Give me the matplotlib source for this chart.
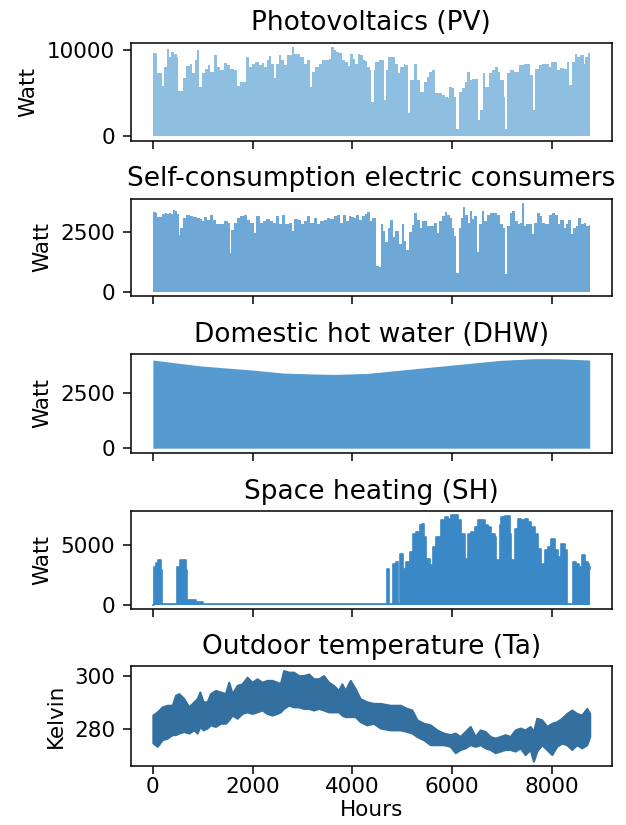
import matplotlib
matplotlib.use("Agg")
import matplotlib.pyplot as plt

# ---------------- data ----------------
titles = ["Photovoltaics (PV)", "Self-consumption electric consumers",
          "Domestic hot water (DHW)", "Space heating (SH)", "Outdoor temperature (Ta)"]
ylabels = ["Watt", "Watt", "Watt", "Watt", "Kelvin"]
xticks = [0, 2000, 4000, 6000, 8000]
yticks = [[0, 10000], [0, 2500], [0, 2500], [0, 5000], [280, 300]]

pv_hours = [0,53,87,140,174,220,274,321,367,421,474,501,588,608,674,741,788,841,888,935,
            988,1055,1102,1155,1222,1289,1356,1422,1489,1556,1623,1690,1756,1823,1877,1923,1990,2057,2124,2190,
            2237,2291,2324,2371,2424,2478,2524,2571,2638,2691,2745,2791,2838,2892,2958,3025,3092,3145,3192,3259,
            3326,3392,3459,3526,3573,3626,3679,3726,3793,3860,3907,3960,4013,4060,4107,4160,4214,4261,4294,4347,
            4374,4428,4461,4528,4594,4641,4681,4708,4775,4828,4862,4915,4962,5029,5062,5109,5162,5229,5296,5362,
            5429,5496,5529,5596,5663,5730,5797,5863,5910,5930,5997,6044,6084,6131,6197,6264,6297,6351,6398,6464,
            6518,6564,6618,6665,6731,6798,6865,6912,6965,7032,7065,7099,7152,7232,7286,7332,7379,7446,7513,7566,
            7613,7666,7733,7800,7867,7933,7980,8034,8100,8167,8234,8301,8354,8401,8468,8514,8568,8635,8668,8715,8759]
pv_watt = [9620,9540,7330,7250,5800,8020,10040,9160,9730,9540,9160,5230,5230,6760,8090,8400,7250,8780,10000,5730,
           7250,7820,8210,7440,9430,8020,7630,8510,8280,7820,7710,5800,6300,6300,9160,8020,8400,8590,8210,8510,
           8020,8780,9240,8400,6680,8400,9350,8860,8210,9350,9350,10300,9470,9470,9160,8400,8860,5730,7440,8020,
           8400,8780,8780,8970,10300,9920,9730,9620,8780,8590,8090,9470,8970,8320,9470,9350,8780,8700,8020,7630,
           4010,7630,8590,8780,8780,4200,7630,9160,9160,9160,8400,7250,8020,8400,8210,2670,6490,8400,6490,5150,
           6300,6870,7440,7630,4960,4960,4770,4580,4390,5730,5540,4580,880,5150,5540,6300,7440,6490,6570,6570,
           1910,3050,7250,5730,7250,7630,8020,7440,6490,4580,840,7250,7630,7440,7440,8210,8210,8400,8400,7060,
           3050,7820,8210,8400,8400,8020,8590,8590,7710,7940,7820,8590,5920,8590,9470,9160,9350,8400,9160,9620,9620]

sc_hours = [0,53,87,140,187,234,274,321,367,407,434,474,521,554,608,674,741,808,875,942,
            988,1035,1089,1155,1209,1256,1322,1389,1436,1503,1543,1569,1623,1690,1756,1823,1890,1957,2023,2077,
            2144,2210,2277,2344,2411,2478,2524,2591,2658,2725,2791,2838,2905,2972,3025,3092,3159,3225,3292,3359,
            3426,3493,3559,3626,3693,3760,3813,3880,3927,3973,4027,4080,4127,4194,4261,4294,4347,4394,4441,4481,
            4534,4574,4615,4661,4708,4761,4815,4862,4929,4995,5029,5082,5129,5196,5242,5296,5349,5396,5443,5496,
            5529,5596,5630,5696,5730,5797,5863,5897,5950,5997,6044,6084,6131,6177,6217,6264,6311,6351,6398,6444,
            6498,6531,6598,6645,6698,6765,6832,6898,6965,7018,7052,7099,7152,7199,7266,7312,7352,7399,7433,7486,
            7553,7600,7646,7700,7753,7800,7867,7933,8000,8067,8114,8167,8234,8287,8334,8381,8434,8488,8534,8581,
            8635,8688,8755,8759]
sc_watt = [3347,3319,3142,3142,3278,3319,3292,3319,3278,3456,3388,3278,2404,2705,3114,3251,3183,3142,3114,3087,
           2978,3142,3046,3251,3046,2869,2841,2841,3005,2910,1612,2595,2910,3114,3183,3251,3046,2910,2459,3183,
           2910,3005,3074,3005,2910,3210,2841,3251,2869,2910,2568,3087,3046,2841,3005,3183,2910,3114,2841,2978,
           3046,3114,3087,3183,3251,2910,3251,2978,3183,3142,3114,3251,3046,3183,3278,3347,2978,3114,3114,1065,
           1038,2869,2568,2090,2705,3046,2295,2568,2022,2869,2158,1748,2500,2814,3319,3046,2705,2978,2978,2773,
           2773,2773,2910,2472,2978,3183,3347,3251,3114,2705,2363,792,2705,3114,3593,3251,2910,3388,3087,3183,
           1680,2841,3388,2978,3251,3319,3319,3251,2841,2705,751,2773,3319,3388,2978,2841,2910,3729,2773,2841,
           2869,2432,2910,3319,3183,2910,2841,3251,3319,3251,2841,3046,2705,2841,3046,2432,2705,2773,3114,2841,
           2910,2773,2814,2814]

dhw_hours = [0,955,2023,2624,3292,3626,4294,4962,5630,6297,6965,7633,8100,8759]
dhw_watt = [3969,3704,3513,3381,3337,3322,3366,3513,3660,3807,3954,4028,4028,3969]

sh_hours = [0,20,67,100,134,160,174,187,487,554,621,655,688,868,1000,4681,4701,4735,4815,4882,
            4915,4948,5015,5049,5082,5149,5216,5283,5349,5396,5436,5483,5549,5616,5683,5783,5850,5917,5983,6050,
            6117,6184,6251,6317,6384,6451,6518,6585,6651,6718,6785,6852,6885,6952,6985,7052,7119,7152,7186,7252,
            7319,7386,7453,7519,7586,7653,7720,7786,7853,7920,7987,8054,8120,8187,8254,8307,8387,8421,8488,8554,
            8601,8655,8721,8755,8759]
sh_watt = [0,3139,3500,3695,3695,2861,2861,56,3139,3695,3750,2861,361,222,56,56,3000,83,3417,3556,
           83,4250,3000,83,3556,4389,5917,6056,6612,6751,5639,3834,3278,4806,5639,7028,7306,7167,7445,7445,
           7028,5917,3834,5917,6056,6473,7028,7028,6612,6473,5917,5639,3695,6612,7306,7362,7362,5917,3695,6334,
           7167,7028,7167,6890,6473,5917,4667,3417,4528,4806,5500,4528,3973,5084,4528,83,83,3556,3417,3139,
           4111,3556,3417,3139,3000]

ta_hours = [0,88,188,288,388,455,521,621,721,822,888,942,1008,1088,1155,1255,1355,1455,1522,1589,
            1689,1789,1889,1989,2089,2189,2289,2389,2489,2556,2622,2723,2823,2923,3023,3123,3223,3323,3423,3523,
            3623,3723,3790,3857,3957,4057,4157,4290,4424,4560,4761,4961,5094,5195,5295,5428,5562,5695,5829,
            5962,6063,6163,6263,6363,6463,6563,6664,6764,6864,6964,7064,7164,7265,7365,7465,7565,7631,7698,7799,
            7899,7999,8099,8199,8300,8400,8500,8600,8700,8759]
ta_upper = [285.2,286.4,288.3,288.9,288.9,292.7,293.3,291.4,288.3,290.2,291.4,293.9,290.2,290.2,293.3,294.5,293.9,293.3,297.6,293.3,
            296.4,297.0,299.5,297.6,298.9,297.6,298.3,298.3,297.6,297.0,302.0,301.4,301.4,300.1,300.1,300.7,298.9,298.9,300.1,297.6,
            296.4,294.5,297.0,294.5,298.3,295.2,291.4,290.2,289.6,289.6,288.9,288.9,287.7,287.1,283.4,282.1,281.5,279.6,278.4,
            277.8,278.4,277.1,279.0,280.9,277.1,279.6,279.0,277.1,276.5,277.1,277.8,277.1,279.6,280.3,279.6,280.9,279.0,284.0,283.4,
            280.9,282.1,282.7,284.0,285.8,287.1,285.8,285.2,287.7,285.8]
ta_lower = [274.7,273.4,275.9,276.5,277.8,277.8,278.4,279.0,278.4,279.6,278.4,280.9,279.6,280.3,281.5,280.9,282.1,282.1,283.4,285.2,
            284.0,285.8,286.4,285.8,286.4,287.1,285.8,285.2,285.8,286.4,287.7,288.9,288.3,288.3,287.7,287.7,287.1,287.7,287.1,286.4,
            286.4,286.4,285.2,284.6,284.6,284.6,282.7,281.5,282.1,280.3,279.6,279.6,279.0,278.4,277.1,275.9,274.0,274.0,274.0,
            273.4,271.0,272.2,272.8,274.0,273.4,274.0,272.8,272.2,271.0,271.6,272.2,272.2,271.6,272.8,270.3,272.2,267.8,271.6,274.0,
            272.2,270.3,273.4,274.6,274.0,272.2,274.0,272.8,274.0,277.1]

colors = ["#8ebfe1", "#6ea8d6", "#569bcf", "#3a88c6", "#33709f"]

# ---------------- figure ----------------
plt.rcParams['font.family'] = ['DejaVu Sans']
fig = plt.figure(figsize=(6.26, 8.25), dpi=100)

left, width = 0.2093, 0.7676
rects = [(0.8295, 0.1188), (0.6412, 0.1176), (0.4513, 0.1193), (0.2618, 0.1188), (0.0719, 0.1208)]
axes = [fig.add_axes([left, b, width, h]) for b, h in rects]

TICK_FS = 15.5
TITLE_FS = 19

axes[0].fill_between(pv_hours, pv_watt, step="post", color=colors[0], linewidth=0)
axes[1].fill_between(sc_hours, sc_watt, step="post", color=colors[1], linewidth=0)
axes[2].fill_between(dhw_hours, dhw_watt, color=colors[2], linewidth=0)
axes[3].fill_between(sh_hours, sh_watt, step="post", color=colors[3], linewidth=0)
axes[3].step(sh_hours, sh_watt, where="post", color=colors[3], linewidth=1.2)
axes[4].fill_between(ta_hours, ta_lower, ta_upper, color=colors[4], linewidth=1.5, edgecolor=colors[4])

for i, ax in enumerate(axes):
    ax.set_title(titles[i], fontsize=TITLE_FS, pad=9)
    ax.set_ylabel(ylabels[i], fontsize=TICK_FS, labelpad=6)
    ax.set_xticks(xticks)
    ax.set_yticks(yticks[i])
    ax.set_xlim(-438, 9197)
    ax.tick_params(labelsize=TICK_FS, length=5.5, width=1.1)
    ax.tick_params(axis="y", pad=6)
    ax.tick_params(axis="x", pad=3)
    for s in ax.spines.values():
        s.set_linewidth(1.1)
    if i < 4:
        ax.tick_params(labelbottom=False)

axes[4].set_xlabel("Hours", fontsize=TICK_FS, labelpad=1.5)

fig.savefig("out.png", dpi=100)
